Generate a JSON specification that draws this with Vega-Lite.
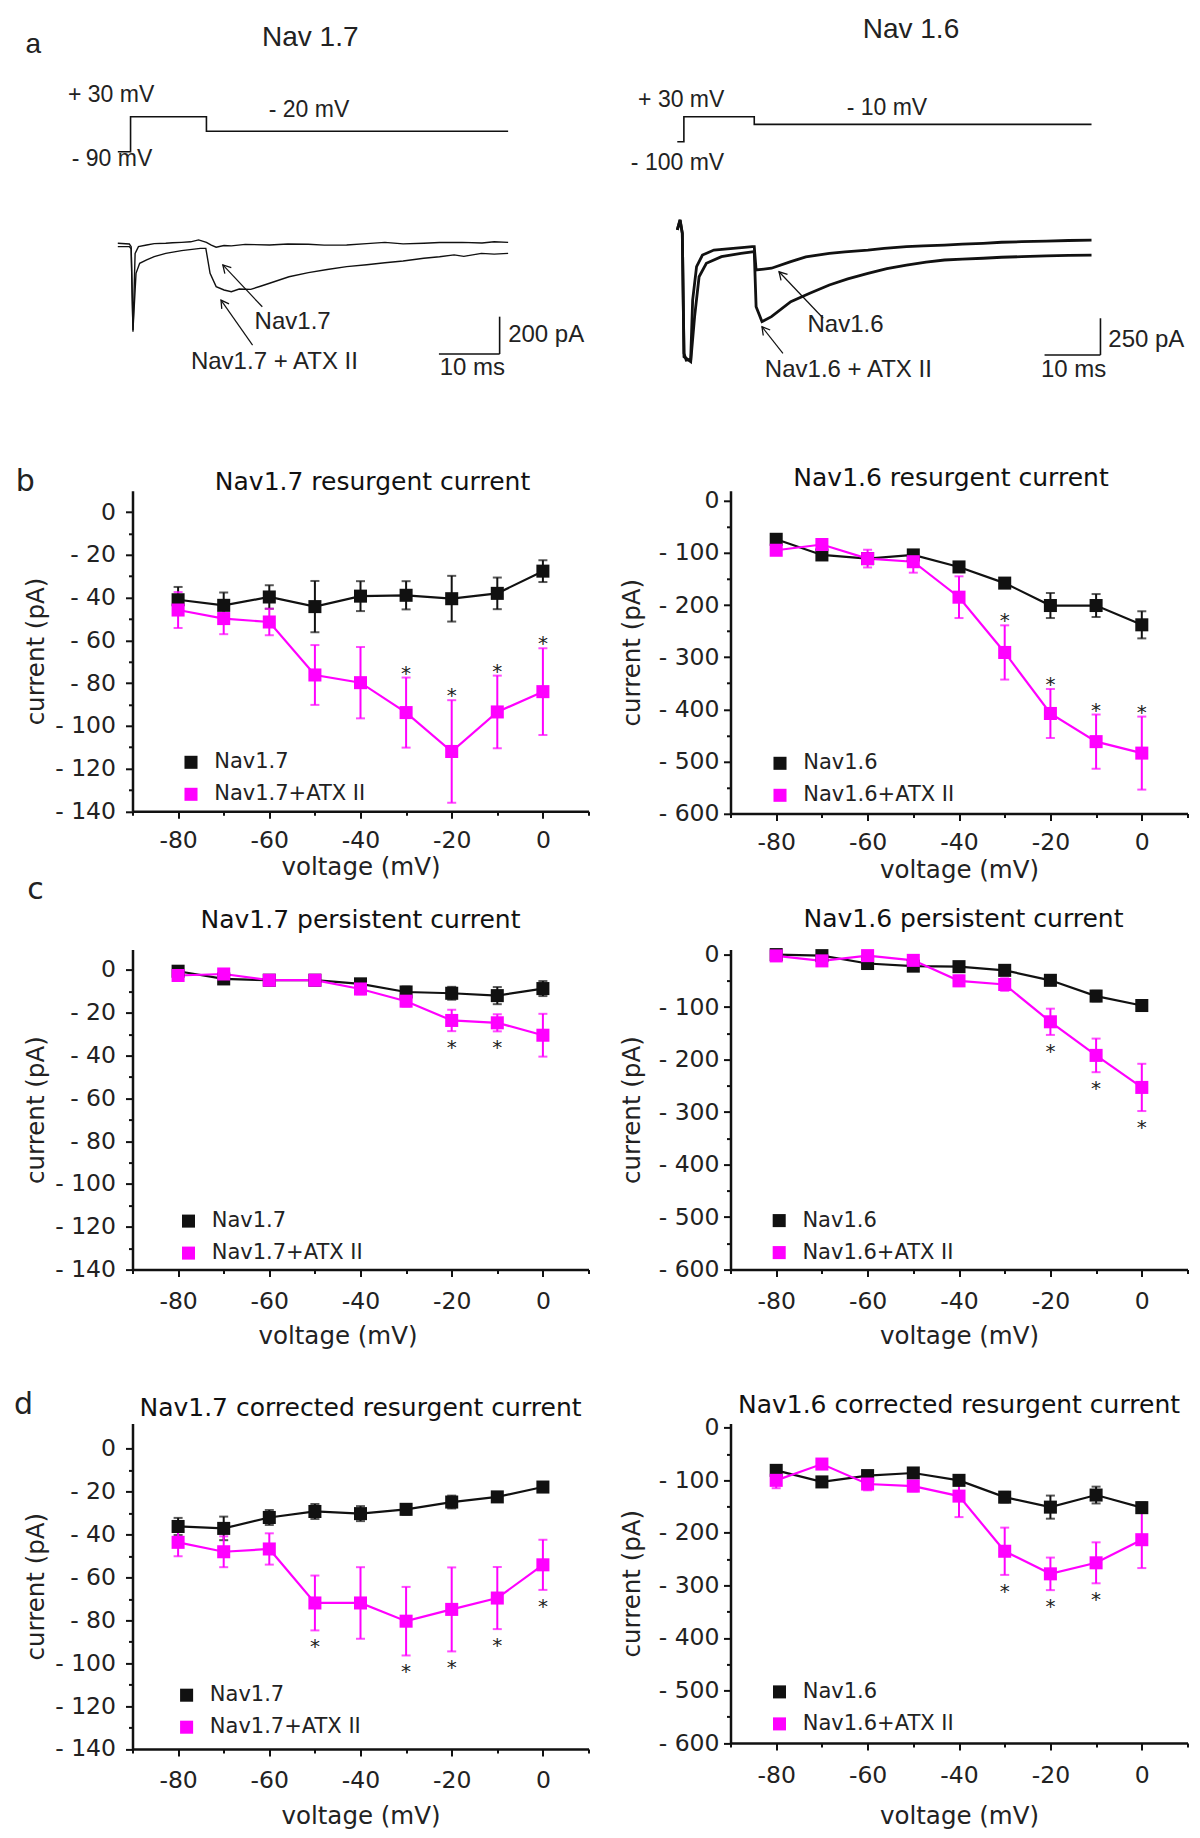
{
"$schema": "https://vega.github.io/schema/vega-lite/v6.json",
"background": "white",
"padding": {"left": 13.5, "top": 10, "right": 4, "bottom": 4},
"config": {
 "font": "DejaVu Sans",
 "view": {"stroke": null},
 "axis": {"domainColor": "#111", "domainWidth": 2.5, "tickColor": "#111", "tickWidth": 2, "labelColor": "#222", "titleColor": "#222", "labelFont": "DejaVu Sans", "titleFont": "DejaVu Sans", "labelFontSize": 23.5, "titleFontSize": 24.5, "titleFontWeight": "normal", "grid": false, "labelFlush": false, "labelOverlap": false, "labelBound": false},
 "axisX": {"titleBaseline": "alphabetic"},
 "title": {"font": "DejaVu Sans", "fontSize": 25, "fontWeight": "normal", "color": "#111", "baseline": "alphabetic", "anchor": "middle", "frame": "group"},
 "legend": {"orient": "none", "padding": 0, "symbolType": "square", "symbolSize": 170, "symbolStrokeWidth": 0, "symbolOpacity": 1, "labelFont": "DejaVu Sans", "labelFontSize": 21, "labelColor": "#222", "rowPadding": 10, "labelOffset": 12.7}
},
"datasets": {
 "aL_prot": [{"i":0,"t":0,"mV":-90},{"i":1,"t":2.1,"mV":-90},{"i":2,"t":2.1,"mV":30},{"i":3,"t":14.6,"mV":30},{"i":4,"t":14.6,"mV":-20},{"i":5,"t":64.3,"mV":-20}],
 "aL_tr": [
  {"tr":"ctrl","t":0,"pA":0},{"tr":"ctrl","t":1.9,"pA":-4},{"tr":"ctrl","t":2.2,"pA":-18},{"tr":"ctrl","t":2.5,"pA":-473},{"tr":"ctrl","t":2.85,"pA":-54},{"tr":"ctrl","t":3.4,"pA":-18},{"tr":"ctrl","t":4.75,"pA":-9},{"tr":"ctrl","t":6,"pA":-2},{"tr":"ctrl","t":7.9,"pA":0},{"tr":"ctrl","t":9,"pA":3},{"tr":"ctrl","t":10.5,"pA":5},{"tr":"ctrl","t":12,"pA":8},{"tr":"ctrl","t":13.3,"pA":18},{"tr":"ctrl","t":14.6,"pA":5},{"tr":"ctrl","t":15.4,"pA":-10},{"tr":"ctrl","t":16.2,"pA":-21},{"tr":"ctrl","t":17.5,"pA":-12},{"tr":"ctrl","t":18.7,"pA":-14},{"tr":"ctrl","t":21,"pA":-6},{"tr":"ctrl","t":25,"pA":-9},{"tr":"ctrl","t":28,"pA":-4},{"tr":"ctrl","t":31.4,"pA":-5},{"tr":"ctrl","t":34,"pA":-10},{"tr":"ctrl","t":37.7,"pA":-9},{"tr":"ctrl","t":41,"pA":-2},{"tr":"ctrl","t":44,"pA":5},{"tr":"ctrl","t":47,"pA":-3},{"tr":"ctrl","t":50.4,"pA":0},{"tr":"ctrl","t":53,"pA":4},{"tr":"ctrl","t":56.7,"pA":5},{"tr":"ctrl","t":60,"pA":2},{"tr":"ctrl","t":62,"pA":8},{"tr":"ctrl","t":64.3,"pA":5},
  {"tr":"atx","t":0,"pA":-18},{"tr":"atx","t":1.9,"pA":-18},{"tr":"atx","t":2.2,"pA":-30},{"tr":"atx","t":2.5,"pA":-464},{"tr":"atx","t":3,"pA":-161},{"tr":"atx","t":3.6,"pA":-107},{"tr":"atx","t":4.75,"pA":-89},{"tr":"atx","t":6,"pA":-71},{"tr":"atx","t":7.9,"pA":-54},{"tr":"atx","t":10.5,"pA":-39},{"tr":"atx","t":13.6,"pA":-27},{"tr":"atx","t":14.5,"pA":-27},{"tr":"atx","t":15.2,"pA":-161},{"tr":"atx","t":16.2,"pA":-232},{"tr":"atx","t":17.5,"pA":-250},{"tr":"atx","t":18.7,"pA":-259},{"tr":"atx","t":20,"pA":-245},{"tr":"atx","t":21.9,"pA":-247},{"tr":"atx","t":23.5,"pA":-230},{"tr":"atx","t":25,"pA":-214},{"tr":"atx","t":28.2,"pA":-179},{"tr":"atx","t":31.4,"pA":-157},{"tr":"atx","t":34.5,"pA":-140},{"tr":"atx","t":37.7,"pA":-125},{"tr":"atx","t":41,"pA":-115},{"tr":"atx","t":44,"pA":-104},{"tr":"atx","t":47,"pA":-95},{"tr":"atx","t":50.4,"pA":-80},{"tr":"atx","t":53,"pA":-72},{"tr":"atx","t":55.4,"pA":-62},{"tr":"atx","t":57,"pA":-70},{"tr":"atx","t":59.9,"pA":-54},{"tr":"atx","t":62,"pA":-58},{"tr":"atx","t":64.3,"pA":-54}],
 "aL_bar": [{"t":62.9,"t2":62.9,"pA":-393,"pA2":-593},{"t":52.9,"t2":62.9,"pA":-593,"pA2":-593}],
 "aL_arr": [{"tr":"ctrl","t":23.8,"pA":-340,"t2":17.3,"pA2":-116},{"tr":"atx","t":22.2,"pA":-545,"t2":17.0,"pA2":-304}],
 "aL_txt": [{"kind":"title","txt":"Nav 1.7","t":31.7,"pA":1098},{"kind":"letter","txt":"a","t":-15.2,"pA":1017.7},{"kind":"label","txt":"Nav1.7","t":28.8,"pA":-420},{"kind":"label","txt":"Nav1.7 + ATX II","t":25.8,"pA":-634},{"kind":"label","txt":"10 ms","t":58.4,"pA":-670},{"kind":"left","txt":"200 pA","t":64.3,"pA":-491}],
 "aL_mv": [{"txt":"+ 30 mV","t":-1.1,"mV":104.4},{"txt":"- 20 mV","t":31.5,"mV":53},{"txt":"- 90 mV","t":-0.96,"mV":-116}],
 "aR_prot": [{"i":0,"t":0,"mV":-100},{"i":1,"t":1.18,"mV":-100},{"i":2,"t":1.18,"mV":30},{"i":3,"t":13.77,"mV":30},{"i":4,"t":13.77,"mV":-10},{"i":5,"t":74.1,"mV":-10}],
 "aR_tr": [
  {"tr":"ctrl","t":0,"pA":14},{"tr":"ctrl","t":0.5,"pA":82},{"tr":"ctrl","t":0.9,"pA":-9},{"tr":"ctrl","t":1.2,"pA":-827},{"tr":"ctrl","t":1.6,"pA":-873},{"tr":"ctrl","t":2.4,"pA":-868},{"tr":"ctrl","t":2.75,"pA":-464},{"tr":"ctrl","t":3.45,"pA":-236},{"tr":"ctrl","t":4.5,"pA":-157},{"tr":"ctrl","t":6.55,"pA":-123},{"tr":"ctrl","t":8,"pA":-118},{"tr":"ctrl","t":10,"pA":-111},{"tr":"ctrl","t":12,"pA":-105},{"tr":"ctrl","t":13.4,"pA":-100},{"tr":"ctrl","t":13.77,"pA":-100},{"tr":"ctrl","t":14.1,"pA":-259},{"tr":"ctrl","t":16.85,"pA":-247},{"tr":"ctrl","t":20.3,"pA":-202},{"tr":"ctrl","t":23,"pA":-170},{"tr":"ctrl","t":27.2,"pA":-145},{"tr":"ctrl","t":30,"pA":-135},{"tr":"ctrl","t":34.1,"pA":-123},{"tr":"ctrl","t":37,"pA":-112},{"tr":"ctrl","t":41,"pA":-100},{"tr":"ctrl","t":44,"pA":-95},{"tr":"ctrl","t":47.8,"pA":-89},{"tr":"ctrl","t":51,"pA":-82},{"tr":"ctrl","t":54.7,"pA":-77},{"tr":"ctrl","t":58,"pA":-70},{"tr":"ctrl","t":61.6,"pA":-66},{"tr":"ctrl","t":66,"pA":-62},{"tr":"ctrl","t":70,"pA":-58},{"tr":"ctrl","t":74.1,"pA":-55},
  {"tr":"atx","t":0,"pA":14},{"tr":"atx","t":0.5,"pA":82},{"tr":"atx","t":0.9,"pA":-9},{"tr":"atx","t":1.2,"pA":-850},{"tr":"atx","t":2.4,"pA":-884},{"tr":"atx","t":3.1,"pA":-577},{"tr":"atx","t":3.9,"pA":-305},{"tr":"atx","t":5.2,"pA":-213},{"tr":"atx","t":7.9,"pA":-168},{"tr":"atx","t":11.4,"pA":-145},{"tr":"atx","t":13.77,"pA":-134},{"tr":"atx","t":14.1,"pA":-509},{"tr":"atx","t":15.15,"pA":-611},{"tr":"atx","t":16.85,"pA":-577},{"tr":"atx","t":20.3,"pA":-475},{"tr":"atx","t":23.7,"pA":-418},{"tr":"atx","t":27.2,"pA":-361},{"tr":"atx","t":30.5,"pA":-320},{"tr":"atx","t":34.1,"pA":-282},{"tr":"atx","t":37.5,"pA":-250},{"tr":"atx","t":41,"pA":-225},{"tr":"atx","t":44.5,"pA":-205},{"tr":"atx","t":47.8,"pA":-191},{"tr":"atx","t":51,"pA":-185},{"tr":"atx","t":54.7,"pA":-179},{"tr":"atx","t":58,"pA":-172},{"tr":"atx","t":61.6,"pA":-168},{"tr":"atx","t":66,"pA":-163},{"tr":"atx","t":70,"pA":-160},{"tr":"atx","t":74.1,"pA":-157}],
 "aR_bar": [{"t":75.7,"t2":75.7,"pA":-588,"pA2":-838},{"t":65.7,"t2":75.7,"pA":-838,"pA2":-838}],
 "aR_arr": [{"tr":"ctrl","t":26.1,"pA":-588,"t2":18.2,"pA2":-271},{"tr":"atx","t":18.9,"pA":-827,"t2":15.15,"pA2":-646}],
 "aR_txt": [{"kind":"title","txt":"Nav 1.6","t":41.8,"pA":1377.6},{"kind":"label","txt":"Nav1.6","t":30.1,"pA":-634},{"kind":"label","txt":"Nav1.6 + ATX II","t":30.6,"pA":-941},{"kind":"label","txt":"10 ms","t":70.9,"pA":-941},{"kind":"left","txt":"250 pA","t":77.1,"pA":-736}],
 "aR_mv": [{"txt":"+ 30 mV","t":0.7,"mV":116.8},{"txt":"- 10 mV","t":37.5,"mV":73.7},{"txt":"- 100 mV","t":0.04,"mV":-212.3}],
 "b17": [
  {"v":-80,"cur":-41,"sem":6,"grp":"Nav1.7","sig":0},{"v":-70,"cur":-43.6,"sem":6,"grp":"Nav1.7","sig":0},{"v":-60,"cur":-39.7,"sem":5.5,"grp":"Nav1.7","sig":0},{"v":-50,"cur":-44.2,"sem":12,"grp":"Nav1.7","sig":0},{"v":-40,"cur":-39.3,"sem":7,"grp":"Nav1.7","sig":0},{"v":-30,"cur":-38.9,"sem":6.6,"grp":"Nav1.7","sig":0},{"v":-20,"cur":-40.5,"sem":10.7,"grp":"Nav1.7","sig":0},{"v":-10,"cur":-38,"sem":7.4,"grp":"Nav1.7","sig":0},{"v":0,"cur":-27.6,"sem":5.1,"grp":"Nav1.7","sig":0},
  {"v":-80,"cur":-45.8,"sem":8.4,"grp":"Nav1.7+ATX II","sig":0},{"v":-70,"cur":-49.8,"sem":7.3,"grp":"Nav1.7+ATX II","sig":0},{"v":-60,"cur":-51.4,"sem":6.2,"grp":"Nav1.7+ATX II","sig":0},{"v":-50,"cur":-76.2,"sem":14,"grp":"Nav1.7+ATX II","sig":0},{"v":-40,"cur":-79.8,"sem":16.7,"grp":"Nav1.7+ATX II","sig":0},{"v":-30,"cur":-93.8,"sem":16.4,"grp":"Nav1.7+ATX II","sig":1},{"v":-20,"cur":-112,"sem":24,"grp":"Nav1.7+ATX II","sig":1},{"v":-10,"cur":-93.5,"sem":17,"grp":"Nav1.7+ATX II","sig":1},{"v":0,"cur":-84,"sem":20.3,"grp":"Nav1.7+ATX II","sig":1}],
 "b16": [
  {"v":-80,"cur":-74,"sem":8,"grp":"Nav1.6","sig":0},{"v":-70,"cur":-104,"sem":7,"grp":"Nav1.6","sig":0},{"v":-60,"cur":-111,"sem":6,"grp":"Nav1.6","sig":0},{"v":-50,"cur":-104,"sem":6,"grp":"Nav1.6","sig":0},{"v":-40,"cur":-127,"sem":6,"grp":"Nav1.6","sig":0},{"v":-30,"cur":-158,"sem":8,"grp":"Nav1.6","sig":0},{"v":-20,"cur":-201,"sem":24,"grp":"Nav1.6","sig":0},{"v":-10,"cur":-201,"sem":22,"grp":"Nav1.6","sig":0},{"v":0,"cur":-238,"sem":26,"grp":"Nav1.6","sig":0},
  {"v":-80,"cur":-95,"sem":9,"grp":"Nav1.6+ATX II","sig":0},{"v":-70,"cur":-84,"sem":9,"grp":"Nav1.6+ATX II","sig":0},{"v":-60,"cur":-111,"sem":17,"grp":"Nav1.6+ATX II","sig":0},{"v":-50,"cur":-117,"sem":21,"grp":"Nav1.6+ATX II","sig":0},{"v":-40,"cur":-185,"sem":40,"grp":"Nav1.6+ATX II","sig":0},{"v":-30,"cur":-291,"sem":52,"grp":"Nav1.6+ATX II","sig":1},{"v":-20,"cur":-408,"sem":47,"grp":"Nav1.6+ATX II","sig":1},{"v":-10,"cur":-462,"sem":52,"grp":"Nav1.6+ATX II","sig":1},{"v":0,"cur":-484,"sem":70,"grp":"Nav1.6+ATX II","sig":1}],
 "c17": [
  {"v":-80,"cur":-0.6,"sem":2,"grp":"Nav1.7","sig":0},{"v":-70,"cur":-4.2,"sem":2,"grp":"Nav1.7","sig":0},{"v":-60,"cur":-4.8,"sem":2,"grp":"Nav1.7","sig":0},{"v":-50,"cur":-4.8,"sem":2,"grp":"Nav1.7","sig":0},{"v":-40,"cur":-6.5,"sem":2,"grp":"Nav1.7","sig":0},{"v":-30,"cur":-10.3,"sem":2.5,"grp":"Nav1.7","sig":0},{"v":-20,"cur":-10.9,"sem":3,"grp":"Nav1.7","sig":0},{"v":-10,"cur":-12,"sem":4,"grp":"Nav1.7","sig":0},{"v":0,"cur":-8.7,"sem":3.5,"grp":"Nav1.7","sig":0},
  {"v":-80,"cur":-2.6,"sem":2.5,"grp":"Nav1.7+ATX II","sig":0},{"v":-70,"cur":-1.9,"sem":2,"grp":"Nav1.7+ATX II","sig":0},{"v":-60,"cur":-4.8,"sem":2,"grp":"Nav1.7+ATX II","sig":0},{"v":-50,"cur":-4.8,"sem":2,"grp":"Nav1.7+ATX II","sig":0},{"v":-40,"cur":-8.9,"sem":2.5,"grp":"Nav1.7+ATX II","sig":0},{"v":-30,"cur":-14.6,"sem":2.5,"grp":"Nav1.7+ATX II","sig":0},{"v":-20,"cur":-23.6,"sem":5,"grp":"Nav1.7+ATX II","sig":1},{"v":-10,"cur":-24.7,"sem":4,"grp":"Nav1.7+ATX II","sig":1},{"v":0,"cur":-30.5,"sem":10,"grp":"Nav1.7+ATX II","sig":0}],
 "c16": [
  {"v":-80,"cur":0,"sem":4,"grp":"Nav1.6","sig":0},{"v":-70,"cur":-2,"sem":4,"grp":"Nav1.6","sig":0},{"v":-60,"cur":-17,"sem":4,"grp":"Nav1.6","sig":0},{"v":-50,"cur":-22,"sem":6,"grp":"Nav1.6","sig":0},{"v":-40,"cur":-23,"sem":5,"grp":"Nav1.6","sig":0},{"v":-30,"cur":-30,"sem":5,"grp":"Nav1.6","sig":0},{"v":-20,"cur":-49,"sem":6,"grp":"Nav1.6","sig":0},{"v":-10,"cur":-79,"sem":10,"grp":"Nav1.6","sig":0},{"v":0,"cur":-97,"sem":10,"grp":"Nav1.6","sig":0},
  {"v":-80,"cur":-2.5,"sem":4,"grp":"Nav1.6+ATX II","sig":0},{"v":-70,"cur":-12,"sem":5,"grp":"Nav1.6+ATX II","sig":0},{"v":-60,"cur":-2,"sem":5,"grp":"Nav1.6+ATX II","sig":0},{"v":-50,"cur":-11,"sem":8,"grp":"Nav1.6+ATX II","sig":0},{"v":-40,"cur":-50,"sem":10,"grp":"Nav1.6+ATX II","sig":0},{"v":-30,"cur":-57,"sem":12,"grp":"Nav1.6+ATX II","sig":0},{"v":-20,"cur":-128,"sem":25,"grp":"Nav1.6+ATX II","sig":1},{"v":-10,"cur":-192,"sem":32,"grp":"Nav1.6+ATX II","sig":1},{"v":0,"cur":-253,"sem":45,"grp":"Nav1.6+ATX II","sig":1}],
 "d17": [
  {"v":-80,"cur":-36.2,"sem":4,"grp":"Nav1.7","sig":0},{"v":-70,"cur":-37.1,"sem":5.5,"grp":"Nav1.7","sig":0},{"v":-60,"cur":-32,"sem":3.5,"grp":"Nav1.7","sig":0},{"v":-50,"cur":-29.2,"sem":3.5,"grp":"Nav1.7","sig":0},{"v":-40,"cur":-30.2,"sem":3.5,"grp":"Nav1.7","sig":0},{"v":-30,"cur":-28.2,"sem":2.5,"grp":"Nav1.7","sig":0},{"v":-20,"cur":-24.8,"sem":3,"grp":"Nav1.7","sig":0},{"v":-10,"cur":-22.4,"sem":1.5,"grp":"Nav1.7","sig":0},{"v":0,"cur":-17.8,"sem":1.5,"grp":"Nav1.7","sig":0},
  {"v":-80,"cur":-43.6,"sem":6.5,"grp":"Nav1.7+ATX II","sig":0},{"v":-70,"cur":-48,"sem":7.2,"grp":"Nav1.7+ATX II","sig":0},{"v":-60,"cur":-46.7,"sem":7.3,"grp":"Nav1.7+ATX II","sig":0},{"v":-50,"cur":-71.9,"sem":12.8,"grp":"Nav1.7+ATX II","sig":1},{"v":-40,"cur":-71.9,"sem":16.7,"grp":"Nav1.7+ATX II","sig":0},{"v":-30,"cur":-80.4,"sem":16,"grp":"Nav1.7+ATX II","sig":1},{"v":-20,"cur":-74.9,"sem":19.6,"grp":"Nav1.7+ATX II","sig":1},{"v":-10,"cur":-69.6,"sem":14.5,"grp":"Nav1.7+ATX II","sig":1},{"v":0,"cur":-54.1,"sem":11.7,"grp":"Nav1.7+ATX II","sig":1}],
 "d16": [
  {"v":-80,"cur":-81,"sem":10,"grp":"Nav1.6","sig":0},{"v":-70,"cur":-103,"sem":5,"grp":"Nav1.6","sig":0},{"v":-60,"cur":-91,"sem":6,"grp":"Nav1.6","sig":0},{"v":-50,"cur":-86,"sem":6,"grp":"Nav1.6","sig":0},{"v":-40,"cur":-100,"sem":8,"grp":"Nav1.6","sig":0},{"v":-30,"cur":-132,"sem":10,"grp":"Nav1.6","sig":0},{"v":-20,"cur":-151,"sem":22,"grp":"Nav1.6","sig":0},{"v":-10,"cur":-128,"sem":16,"grp":"Nav1.6","sig":0},{"v":0,"cur":-152,"sem":10,"grp":"Nav1.6","sig":0},
  {"v":-80,"cur":-100,"sem":15,"grp":"Nav1.6+ATX II","sig":0},{"v":-70,"cur":-69,"sem":8,"grp":"Nav1.6+ATX II","sig":0},{"v":-60,"cur":-107,"sem":12,"grp":"Nav1.6+ATX II","sig":0},{"v":-50,"cur":-111,"sem":10,"grp":"Nav1.6+ATX II","sig":0},{"v":-40,"cur":-130,"sem":40,"grp":"Nav1.6+ATX II","sig":0},{"v":-30,"cur":-235,"sem":45,"grp":"Nav1.6+ATX II","sig":1},{"v":-20,"cur":-278,"sem":31,"grp":"Nav1.6+ATX II","sig":1},{"v":-10,"cur":-257,"sem":39,"grp":"Nav1.6+ATX II","sig":1},{"v":0,"cur":-213,"sem":54,"grp":"Nav1.6+ATX II","sig":0}]
},
"columns": 2,
"spacing": {"row": -7.2, "column": 30},
"align": "each",
"bounds": "full",
"resolve": {"scale": {"x": "independent", "y": "independent", "color": "independent"}, "legend": {"color": "independent"}, "axis": {"x": "independent", "y": "independent"}},
"concat": [
 {
  "width": 456, "height": 463,
  "resolve": {"scale": {"y": "independent"}},
  "encoding": {"x": {"field": "t", "type": "quantitative", "scale": {"domain": [2.42, 77.54], "nice": false, "zero": false}, "axis": null}},
  "layer": [
   {"data": {"name": "aL_prot"}, "mark": {"type": "line", "color": "#111", "strokeWidth": 1.6}, "encoding": {"y": {"field": "mV", "type": "quantitative", "scale": {"domain": [-1191.5, 395.8], "nice": false, "zero": false}, "axis": null}, "order": {"field": "i"}}},
   {"data": {"name": "aL_tr"}, "mark": {"type": "line", "color": "#111", "strokeWidth": 1.4}, "encoding": {"y": {"field": "pA", "type": "quantitative", "scale": {"domain": [-1230.3, 1249.6], "nice": false, "zero": false}, "axis": null}, "detail": {"field": "tr"}}},
   {"data": {"name": "aL_bar"}, "mark": {"type": "rule", "color": "#111", "strokeWidth": 1.6}, "encoding": {"x2": {"field": "t2"}, "y": {"field": "pA", "type": "quantitative", "scale": {"domain": [-1230.3, 1249.6], "nice": false, "zero": false}, "axis": null}, "y2": {"field": "pA2"}}},
   {"data": {"name": "aL_arr"}, "mark": {"type": "rule", "color": "#111", "strokeWidth": 1.2}, "encoding": {"x2": {"field": "t2"}, "y": {"field": "pA", "type": "quantitative", "scale": {"domain": [-1230.3, 1249.6], "nice": false, "zero": false}, "axis": null}, "y2": {"field": "pA2"}}},
   {"data": {"name": "aL_arr"}, "mark": {"type": "point", "shape": "M -0.55 0.95 L 0 0 L 0.55 0.95", "filled": false, "color": "#111", "strokeWidth": 1.3, "size": 260, "opacity": 1}, "encoding": {"x": {"field": "t2", "type": "quantitative", "scale": {"domain": [2.42, 77.54], "nice": false, "zero": false}, "axis": null}, "y": {"field": "pA2", "type": "quantitative", "scale": {"domain": [-1230.3, 1249.6], "nice": false, "zero": false}, "axis": null}, "angle": {"condition": {"test": "datum.tr == 'ctrl'", "value": 316.8}, "value": 325}}},
   {"data": {"name": "aL_txt"}, "transform": [{"filter": "datum.kind == 'title'"}], "mark": {"type": "text", "font": "Liberation Sans", "fontSize": 28, "align": "center", "baseline": "middle", "color": "#222"}, "encoding": {"y": {"field": "pA", "type": "quantitative", "scale": {"domain": [-1230.3, 1249.6], "nice": false, "zero": false}, "axis": null}, "text": {"field": "txt"}}},
   {"data": {"name": "aL_txt"}, "transform": [{"filter": "datum.kind == 'letter'"}], "mark": {"type": "text", "font": "Liberation Sans", "fontSize": 28, "align": "left", "baseline": "alphabetic", "color": "#222"}, "encoding": {"y": {"field": "pA", "type": "quantitative", "scale": {"domain": [-1230.3, 1249.6], "nice": false, "zero": false}, "axis": null}, "text": {"field": "txt"}}},
   {"data": {"name": "aL_txt"}, "transform": [{"filter": "datum.kind == 'label'"}], "mark": {"type": "text", "font": "Liberation Sans", "fontSize": 24, "align": "center", "baseline": "middle", "color": "#222"}, "encoding": {"y": {"field": "pA", "type": "quantitative", "scale": {"domain": [-1230.3, 1249.6], "nice": false, "zero": false}, "axis": null}, "text": {"field": "txt"}}},
   {"data": {"name": "aL_txt"}, "transform": [{"filter": "datum.kind == 'left'"}], "mark": {"type": "text", "font": "Liberation Sans", "fontSize": 24, "align": "left", "baseline": "middle", "color": "#222"}, "encoding": {"y": {"field": "pA", "type": "quantitative", "scale": {"domain": [-1230.3, 1249.6], "nice": false, "zero": false}, "axis": null}, "text": {"field": "txt"}}},
   {"data": {"name": "aL_mv"}, "mark": {"type": "text", "font": "Liberation Sans", "fontSize": 23, "align": "center", "baseline": "middle", "color": "#222"}, "encoding": {"y": {"field": "mV", "type": "quantitative", "scale": {"domain": [-1191.5, 395.8], "nice": false, "zero": false}, "axis": null}, "text": {"field": "txt"}}}
  ]
 },
 {
  "width": 457, "height": 463,
  "resolve": {"scale": {"y": "independent"}},
  "encoding": {"x": {"field": "t", "type": "quantitative", "scale": {"domain": [9.52, 91.27], "nice": false, "zero": false}, "axis": null}},
  "layer": [
   {"data": {"name": "aR_prot"}, "mark": {"type": "line", "color": "#111", "strokeWidth": 1.6}, "encoding": {"y": {"field": "mV", "type": "quantitative", "scale": {"domain": [-1822.8, 584.9], "nice": false, "zero": false}, "axis": null}, "order": {"field": "i"}}},
   {"data": {"name": "aR_tr"}, "mark": {"type": "line", "color": "#111", "strokeWidth": 2.8}, "encoding": {"y": {"field": "pA", "type": "quantitative", "scale": {"domain": [-1642.8, 1513.3], "nice": false, "zero": false}, "axis": null}, "detail": {"field": "tr"}}},
   {"data": {"name": "aR_bar"}, "mark": {"type": "rule", "color": "#111", "strokeWidth": 1.6}, "encoding": {"x2": {"field": "t2"}, "y": {"field": "pA", "type": "quantitative", "scale": {"domain": [-1642.8, 1513.3], "nice": false, "zero": false}, "axis": null}, "y2": {"field": "pA2"}}},
   {"data": {"name": "aR_arr"}, "mark": {"type": "rule", "color": "#111", "strokeWidth": 1.2}, "encoding": {"x2": {"field": "t2"}, "y": {"field": "pA", "type": "quantitative", "scale": {"domain": [-1642.8, 1513.3], "nice": false, "zero": false}, "axis": null}, "y2": {"field": "pA2"}}},
   {"data": {"name": "aR_arr"}, "mark": {"type": "point", "shape": "M -0.55 0.95 L 0 0 L 0.55 0.95", "filled": false, "color": "#111", "strokeWidth": 1.3, "size": 260, "opacity": 1}, "encoding": {"x": {"field": "t2", "type": "quantitative", "scale": {"domain": [9.52, 91.27], "nice": false, "zero": false}, "axis": null}, "y": {"field": "pA2", "type": "quantitative", "scale": {"domain": [-1642.8, 1513.3], "nice": false, "zero": false}, "axis": null}, "angle": {"condition": {"test": "datum.tr == 'ctrl'", "value": 316.8}, "value": 321.6}}},
   {"data": {"name": "aR_txt"}, "transform": [{"filter": "datum.kind == 'title'"}], "mark": {"type": "text", "font": "Liberation Sans", "fontSize": 28, "align": "center", "baseline": "middle", "color": "#222"}, "encoding": {"y": {"field": "pA", "type": "quantitative", "scale": {"domain": [-1642.8, 1513.3], "nice": false, "zero": false}, "axis": null}, "text": {"field": "txt"}}},
   {"data": {"name": "aR_txt"}, "transform": [{"filter": "datum.kind == 'label'"}], "mark": {"type": "text", "font": "Liberation Sans", "fontSize": 24, "align": "center", "baseline": "middle", "color": "#222"}, "encoding": {"y": {"field": "pA", "type": "quantitative", "scale": {"domain": [-1642.8, 1513.3], "nice": false, "zero": false}, "axis": null}, "text": {"field": "txt"}}},
   {"data": {"name": "aR_txt"}, "transform": [{"filter": "datum.kind == 'left'"}], "mark": {"type": "text", "font": "Liberation Sans", "fontSize": 24, "align": "left", "baseline": "middle", "color": "#222"}, "encoding": {"y": {"field": "pA", "type": "quantitative", "scale": {"domain": [-1642.8, 1513.3], "nice": false, "zero": false}, "axis": null}, "text": {"field": "txt"}}},
   {"data": {"name": "aR_mv"}, "mark": {"type": "text", "font": "Liberation Sans", "fontSize": 23, "align": "center", "baseline": "middle", "color": "#222"}, "encoding": {"y": {"field": "mV", "type": "quantitative", "scale": {"domain": [-1822.8, 584.9], "nice": false, "zero": false}, "axis": null}, "text": {"field": "txt"}}}
  ]
 },
 {
  "width": 456, "height": 320.5,
  "title": {"text": "Nav1.7 resurgent current", "offset": -27.5, "dx": 12},
  "data": {"name": "b17"},
  "encoding": {
   "x": {"field": "v", "type": "quantitative", "scale": {"domain": [-90, 10], "nice": false, "zero": false}, "axis": {"values": [-90,-80,-70,-60,-50,-40,-30,-20,-10,0,10], "labelExpr": "datum.value % 20 != 0 || datum.value > 0 ? '' : (datum.value == 0 ? '0' : '-' + abs(datum.value))", "tickSize": {"condition": {"test": "datum.value % 20 == 0", "value": 7}, "value": 4}, "labelPadding": 10, "title": "voltage (mV)", "titlePadding": 22.7}},
   "y": {"field": "cur", "type": "quantitative", "scale": {"domain": [-140, 10], "nice": false, "zero": false}, "axis": {"values": [-140,-130,-120,-110,-100,-90,-80,-70,-60,-50,-40,-30,-20,-10,0], "labelExpr": "datum.value % 20 != 0 ? '' : (datum.value == 0 ? '0' : '- ' + abs(datum.value))", "tickSize": {"condition": {"test": "datum.value % 20 == 0", "value": 7}, "value": 4}, "labelPadding": 10, "title": "current (pA)", "titlePadding": 6}}
  },
  "layer": [
   {"transform": [{"filter": "datum.grp == 'Nav1.7'"}], "mark": {"type": "errorbar", "ticks": true, "size": 9, "thickness": 2, "color": "#111111"}, "encoding": {"yError": {"field": "sem"}}},
   {"transform": [{"filter": "datum.grp == 'Nav1.7'"}], "mark": {"type": "line", "strokeWidth": 2.2, "color": "#111111"}},
   {"transform": [{"filter": "datum.grp != 'Nav1.7'"}], "mark": {"type": "errorbar", "ticks": true, "size": 9, "thickness": 2, "color": "#ff00ff"}, "encoding": {"yError": {"field": "sem"}}},
   {"transform": [{"filter": "datum.grp != 'Nav1.7'"}], "mark": {"type": "line", "strokeWidth": 2.2, "color": "#ff00ff"}},
   {"mark": {"type": "point", "shape": "square", "filled": true, "size": 170, "opacity": 1}, "encoding": {"color": {"field": "grp", "type": "nominal", "scale": {"domain": ["Nav1.7", "Nav1.7+ATX II"], "range": ["#111111", "#ff00ff"]}, "legend": {"title": null, "orient": "none", "legendX": 48, "legendY": 261}}}},
   {"transform": [{"filter": "datum.sig == 1"}, {"calculate": "datum.cur + datum.sem", "as": "ys"}], "mark": {"type": "text", "text": "*", "fontSize": 20, "baseline": "alphabetic", "dy": 2, "color": "#222"}, "encoding": {"y": {"field": "ys", "type": "quantitative", "scale": {"domain": [-140, 10], "nice": false, "zero": false}, "axis": {"values": [-140,-130,-120,-110,-100,-90,-80,-70,-60,-50,-40,-30,-20,-10,0], "labelExpr": "datum.value % 20 != 0 ? '' : (datum.value == 0 ? '0' : '- ' + abs(datum.value))", "tickSize": {"condition": {"test": "datum.value % 20 == 0", "value": 7}, "value": 4}, "labelPadding": 10, "title": "current (pA)", "titlePadding": 6}}}},
   {"transform": [{"filter": "datum.v == -80 && datum.grp == 'Nav1.7'"}], "mark": {"type": "text", "text": "b", "fontSize": 30, "align": "left", "baseline": "alphabetic", "color": "#222"}, "encoding": {"x": {"datum": -115.6, "type": "quantitative"}, "y": {"datum": 9.78, "type": "quantitative"}}}
  ]
 },
 {
  "width": 457, "height": 322.8,
  "title": {"text": "Nav1.6 resurgent current", "offset": -2.65, "dx": -8},
  "data": {"name": "b16"},
  "encoding": {
   "x": {"field": "v", "type": "quantitative", "scale": {"domain": [-90, 10], "nice": false, "zero": false}, "axis": {"values": [-90,-80,-70,-60,-50,-40,-30,-20,-10,0,10], "labelExpr": "datum.value % 20 != 0 || datum.value > 0 ? '' : (datum.value == 0 ? '0' : '-' + abs(datum.value))", "tickSize": {"condition": {"test": "datum.value % 20 == 0", "value": 7}, "value": 4}, "labelPadding": 10, "title": "voltage (mV)", "titlePadding": 22.9}},
   "y": {"field": "cur", "type": "quantitative", "scale": {"domain": [-600, 19], "nice": false, "zero": false}, "axis": {"values": [-600,-550,-500,-450,-400,-350,-300,-250,-200,-150,-100,-50,0], "labelExpr": "datum.value % 100 != 0 ? '' : (datum.value == 0 ? '0' : '- ' + abs(datum.value))", "tickSize": {"condition": {"test": "datum.value % 100 == 0", "value": 7}, "value": 4}, "labelPadding": 4.5, "title": "current (pA)", "titlePadding": 13.5}}
  },
  "layer": [
   {"transform": [{"filter": "datum.grp == 'Nav1.6'"}], "mark": {"type": "errorbar", "ticks": true, "size": 9, "thickness": 2, "color": "#111111"}, "encoding": {"yError": {"field": "sem"}}},
   {"transform": [{"filter": "datum.grp == 'Nav1.6'"}], "mark": {"type": "line", "strokeWidth": 2.2, "color": "#111111"}},
   {"transform": [{"filter": "datum.grp != 'Nav1.6'"}], "mark": {"type": "errorbar", "ticks": true, "size": 9, "thickness": 2, "color": "#ff00ff"}, "encoding": {"yError": {"field": "sem"}}},
   {"transform": [{"filter": "datum.grp != 'Nav1.6'"}], "mark": {"type": "line", "strokeWidth": 2.2, "color": "#ff00ff"}},
   {"mark": {"type": "point", "shape": "square", "filled": true, "size": 170, "opacity": 1}, "encoding": {"color": {"field": "grp", "type": "nominal", "scale": {"domain": ["Nav1.6", "Nav1.6+ATX II"], "range": ["#111111", "#ff00ff"]}, "legend": {"title": null, "orient": "none", "legendX": 39, "legendY": 262}}}},
   {"transform": [{"filter": "datum.sig == 1"}, {"calculate": "datum.cur + datum.sem", "as": "ys"}], "mark": {"type": "text", "text": "*", "fontSize": 20, "baseline": "alphabetic", "dy": 2, "color": "#222"}, "encoding": {"y": {"field": "ys", "type": "quantitative", "scale": {"domain": [-600, 19], "nice": false, "zero": false}, "axis": {"values": [-600,-550,-500,-450,-400,-350,-300,-250,-200,-150,-100,-50,0], "labelExpr": "datum.value % 100 != 0 ? '' : (datum.value == 0 ? '0' : '- ' + abs(datum.value))", "tickSize": {"condition": {"test": "datum.value % 100 == 0", "value": 7}, "value": 4}, "labelPadding": 4.5, "title": "current (pA)", "titlePadding": 13.5}}}}
  ]
 },
 {
  "width": 456, "height": 320,
  "title": {"text": "Nav1.7 persistent current", "offset": -58.2, "dx": 0},
  "data": {"name": "c17"},
  "encoding": {
   "x": {"field": "v", "type": "quantitative", "scale": {"domain": [-90, 10], "nice": false, "zero": false}, "axis": {"values": [-90,-80,-70,-60,-50,-40,-30,-20,-10,0,10], "labelExpr": "datum.value % 20 != 0 || datum.value > 0 ? '' : (datum.value == 0 ? '0' : '-' + abs(datum.value))", "tickSize": {"condition": {"test": "datum.value % 20 == 0", "value": 7}, "value": 4}, "labelPadding": 13, "title": ["voltage (mV)", ""], "titleLineHeight": 48.5, "titlePadding": 30, "titleX": 205}},
   "y": {"field": "cur", "type": "quantitative", "scale": {"domain": [-140, 9.5], "nice": false, "zero": false}, "axis": {"values": [-140,-130,-120,-110,-100,-90,-80,-70,-60,-50,-40,-30,-20,-10,0], "labelExpr": "datum.value % 20 != 0 ? '' : (datum.value == 0 ? '0' : '- ' + abs(datum.value))", "tickSize": {"condition": {"test": "datum.value % 20 == 0", "value": 7}, "value": 4}, "labelPadding": 10, "title": "current (pA)", "titlePadding": 6}}
  },
  "layer": [
   {"transform": [{"filter": "datum.grp == 'Nav1.7'"}], "mark": {"type": "errorbar", "ticks": true, "size": 9, "thickness": 2, "color": "#111111"}, "encoding": {"yError": {"field": "sem"}}},
   {"transform": [{"filter": "datum.grp == 'Nav1.7'"}], "mark": {"type": "line", "strokeWidth": 2.2, "color": "#111111"}},
   {"transform": [{"filter": "datum.grp != 'Nav1.7'"}], "mark": {"type": "errorbar", "ticks": true, "size": 9, "thickness": 2, "color": "#ff00ff"}, "encoding": {"yError": {"field": "sem"}}},
   {"transform": [{"filter": "datum.grp != 'Nav1.7'"}], "mark": {"type": "line", "strokeWidth": 2.2, "color": "#ff00ff"}},
   {"mark": {"type": "point", "shape": "square", "filled": true, "size": 170, "opacity": 1}, "encoding": {"color": {"field": "grp", "type": "nominal", "scale": {"domain": ["Nav1.7", "Nav1.7+ATX II"], "range": ["#111111", "#ff00ff"]}, "legend": {"title": null, "orient": "none", "legendX": 45.5, "legendY": 261}}}},
   {"transform": [{"filter": "datum.sig == 1"}, {"calculate": "datum.cur - datum.sem", "as": "ys"}], "mark": {"type": "text", "text": "*", "fontSize": 20, "baseline": "alphabetic", "dy": 22.8, "color": "#222"}, "encoding": {"y": {"field": "ys", "type": "quantitative", "scale": {"domain": [-140, 9.5], "nice": false, "zero": false}, "axis": {"values": [-140,-130,-120,-110,-100,-90,-80,-70,-60,-50,-40,-30,-20,-10,0], "labelExpr": "datum.value % 20 != 0 ? '' : (datum.value == 0 ? '0' : '- ' + abs(datum.value))", "tickSize": {"condition": {"test": "datum.value % 20 == 0", "value": 7}, "value": 4}, "labelPadding": 10, "title": "current (pA)", "titlePadding": 6}}}},
   {"transform": [{"filter": "datum.v == -80 && datum.grp == 'Nav1.7'"}], "mark": {"type": "text", "text": "c", "fontSize": 30, "align": "left", "baseline": "alphabetic", "color": "#222"}, "encoding": {"x": {"datum": -113.1, "type": "quantitative"}, "y": {"datum": 33.0, "type": "quantitative"}}}
  ]
 },
 {
  "width": 457, "height": 320,
  "title": {"text": "Nav1.6 persistent current", "offset": 10.35, "dx": 4.5},
  "data": {"name": "c16"},
  "encoding": {
   "x": {"field": "v", "type": "quantitative", "scale": {"domain": [-90, 10], "nice": false, "zero": false}, "axis": {"values": [-90,-80,-70,-60,-50,-40,-30,-20,-10,0,10], "labelExpr": "datum.value % 20 != 0 || datum.value > 0 ? '' : (datum.value == 0 ? '0' : '-' + abs(datum.value))", "tickSize": {"condition": {"test": "datum.value % 20 == 0", "value": 7}, "value": 4}, "labelPadding": 13, "title": ["voltage (mV)", ""], "titleLineHeight": 48.5, "titlePadding": 30}},
   "y": {"field": "cur", "type": "quantitative", "scale": {"domain": [-600, 9.5], "nice": false, "zero": false}, "axis": {"values": [-600,-550,-500,-450,-400,-350,-300,-250,-200,-150,-100,-50,0], "labelExpr": "datum.value % 100 != 0 ? '' : (datum.value == 0 ? '0' : '- ' + abs(datum.value))", "tickSize": {"condition": {"test": "datum.value % 100 == 0", "value": 7}, "value": 4}, "labelPadding": 4.5, "title": "current (pA)", "titlePadding": 13.5}}
  },
  "layer": [
   {"transform": [{"filter": "datum.grp == 'Nav1.6'"}], "mark": {"type": "errorbar", "ticks": true, "size": 9, "thickness": 2, "color": "#111111"}, "encoding": {"yError": {"field": "sem"}}},
   {"transform": [{"filter": "datum.grp == 'Nav1.6'"}], "mark": {"type": "line", "strokeWidth": 2.2, "color": "#111111"}},
   {"transform": [{"filter": "datum.grp != 'Nav1.6'"}], "mark": {"type": "errorbar", "ticks": true, "size": 9, "thickness": 2, "color": "#ff00ff"}, "encoding": {"yError": {"field": "sem"}}},
   {"transform": [{"filter": "datum.grp != 'Nav1.6'"}], "mark": {"type": "line", "strokeWidth": 2.2, "color": "#ff00ff"}},
   {"mark": {"type": "point", "shape": "square", "filled": true, "size": 170, "opacity": 1}, "encoding": {"color": {"field": "grp", "type": "nominal", "scale": {"domain": ["Nav1.6", "Nav1.6+ATX II"], "range": ["#111111", "#ff00ff"]}, "legend": {"title": null, "orient": "none", "legendX": 38.2, "legendY": 260.5}}}},
   {"transform": [{"filter": "datum.sig == 1"}, {"calculate": "datum.cur - datum.sem", "as": "ys"}], "mark": {"type": "text", "text": "*", "fontSize": 20, "baseline": "alphabetic", "dy": 22.8, "color": "#222"}, "encoding": {"y": {"field": "ys", "type": "quantitative", "scale": {"domain": [-600, 9.5], "nice": false, "zero": false}, "axis": {"values": [-600,-550,-500,-450,-400,-350,-300,-250,-200,-150,-100,-50,0], "labelExpr": "datum.value % 100 != 0 ? '' : (datum.value == 0 ? '0' : '- ' + abs(datum.value))", "tickSize": {"condition": {"test": "datum.value % 100 == 0", "value": 7}, "value": 4}, "labelPadding": 4.5, "title": "current (pA)", "titlePadding": 13.5}}}}
  ]
 },
 {
  "width": 456, "height": 325.5,
  "title": {"text": "Nav1.7 corrected resurgent current", "offset": -30.4, "dx": 0},
  "data": {"name": "d17"},
  "encoding": {
   "x": {"field": "v", "type": "quantitative", "scale": {"domain": [-90, 10], "nice": false, "zero": false}, "axis": {"values": [-90,-80,-70,-60,-50,-40,-30,-20,-10,0,10], "labelExpr": "datum.value % 20 != 0 || datum.value > 0 ? '' : (datum.value == 0 ? '0' : '-' + abs(datum.value))", "tickSize": {"condition": {"test": "datum.value % 20 == 0", "value": 7}, "value": 4}, "labelPadding": 13, "title": "voltage (mV)", "titlePadding": 31}},
   "y": {"field": "cur", "type": "quantitative", "scale": {"domain": [-140, 11.9], "nice": false, "zero": false}, "axis": {"values": [-140,-130,-120,-110,-100,-90,-80,-70,-60,-50,-40,-30,-20,-10,0], "labelExpr": "datum.value % 20 != 0 ? '' : (datum.value == 0 ? '0' : '- ' + abs(datum.value))", "tickSize": {"condition": {"test": "datum.value % 20 == 0", "value": 7}, "value": 4}, "labelPadding": 10, "title": "current (pA)", "titlePadding": 6}}
  },
  "layer": [
   {"transform": [{"filter": "datum.grp == 'Nav1.7'"}], "mark": {"type": "errorbar", "ticks": true, "size": 9, "thickness": 2, "color": "#111111"}, "encoding": {"yError": {"field": "sem"}}},
   {"transform": [{"filter": "datum.grp == 'Nav1.7'"}], "mark": {"type": "line", "strokeWidth": 2.2, "color": "#111111"}},
   {"transform": [{"filter": "datum.grp != 'Nav1.7'"}], "mark": {"type": "errorbar", "ticks": true, "size": 9, "thickness": 2, "color": "#ff00ff"}, "encoding": {"yError": {"field": "sem"}}},
   {"transform": [{"filter": "datum.grp != 'Nav1.7'"}], "mark": {"type": "line", "strokeWidth": 2.2, "color": "#ff00ff"}},
   {"mark": {"type": "point", "shape": "square", "filled": true, "size": 170, "opacity": 1}, "encoding": {"color": {"field": "grp", "type": "nominal", "scale": {"domain": ["Nav1.7", "Nav1.7+ATX II"], "range": ["#111111", "#ff00ff"]}, "legend": {"title": null, "orient": "none", "legendX": 43.6, "legendY": 261.3}}}},
   {"transform": [{"filter": "datum.sig == 1"}, {"calculate": "datum.cur - datum.sem", "as": "ys"}], "mark": {"type": "text", "text": "*", "fontSize": 20, "baseline": "alphabetic", "dy": 22.8, "color": "#222"}, "encoding": {"y": {"field": "ys", "type": "quantitative", "scale": {"domain": [-140, 11.9], "nice": false, "zero": false}, "axis": {"values": [-140,-130,-120,-110,-100,-90,-80,-70,-60,-50,-40,-30,-20,-10,0], "labelExpr": "datum.value % 20 != 0 ? '' : (datum.value == 0 ? '0' : '- ' + abs(datum.value))", "tickSize": {"condition": {"test": "datum.value % 20 == 0", "value": 7}, "value": 4}, "labelPadding": 10, "title": "current (pA)", "titlePadding": 6}}}},
   {"transform": [{"filter": "datum.v == -80 && datum.grp == 'Nav1.7'"}], "mark": {"type": "text", "text": "d", "fontSize": 30, "align": "left", "baseline": "alphabetic", "color": "#222"}, "encoding": {"x": {"datum": -116.0, "type": "quantitative"}, "y": {"datum": 16.2, "type": "quantitative"}}}
  ]
 },
 {
  "width": 457, "height": 319.6,
  "title": {"text": "Nav1.6 corrected resurgent current", "offset": -2.25, "dx": 0},
  "data": {"name": "d16"},
  "encoding": {
   "x": {"field": "v", "type": "quantitative", "scale": {"domain": [-90, 10], "nice": false, "zero": false}, "axis": {"values": [-90,-80,-70,-60,-50,-40,-30,-20,-10,0,10], "labelExpr": "datum.value % 20 != 0 || datum.value > 0 ? '' : (datum.value == 0 ? '0' : '-' + abs(datum.value))", "tickSize": {"condition": {"test": "datum.value % 20 == 0", "value": 7}, "value": 4}, "labelPadding": 13, "title": "voltage (mV)", "titlePadding": 36.8}},
   "y": {"field": "cur", "type": "quantitative", "scale": {"domain": [-600, 8.4], "nice": false, "zero": false}, "axis": {"values": [-600,-550,-500,-450,-400,-350,-300,-250,-200,-150,-100,-50,0], "labelExpr": "datum.value % 100 != 0 ? '' : (datum.value == 0 ? '0' : '- ' + abs(datum.value))", "tickSize": {"condition": {"test": "datum.value % 100 == 0", "value": 7}, "value": 4}, "labelPadding": 4.5, "title": "current (pA)", "titlePadding": 13.5}}
  },
  "layer": [
   {"transform": [{"filter": "datum.grp == 'Nav1.6'"}], "mark": {"type": "errorbar", "ticks": true, "size": 9, "thickness": 2, "color": "#111111"}, "encoding": {"yError": {"field": "sem"}}},
   {"transform": [{"filter": "datum.grp == 'Nav1.6'"}], "mark": {"type": "line", "strokeWidth": 2.2, "color": "#111111"}},
   {"transform": [{"filter": "datum.grp != 'Nav1.6'"}], "mark": {"type": "errorbar", "ticks": true, "size": 9, "thickness": 2, "color": "#ff00ff"}, "encoding": {"yError": {"field": "sem"}}},
   {"transform": [{"filter": "datum.grp != 'Nav1.6'"}], "mark": {"type": "line", "strokeWidth": 2.2, "color": "#ff00ff"}},
   {"mark": {"type": "point", "shape": "square", "filled": true, "size": 170, "opacity": 1}, "encoding": {"color": {"field": "grp", "type": "nominal", "scale": {"domain": ["Nav1.6", "Nav1.6+ATX II"], "range": ["#111111", "#ff00ff"]}, "legend": {"title": null, "orient": "none", "legendX": 38.5, "legendY": 258}}}},
   {"transform": [{"filter": "datum.sig == 1"}, {"calculate": "datum.cur - datum.sem", "as": "ys"}], "mark": {"type": "text", "text": "*", "fontSize": 20, "baseline": "alphabetic", "dy": 22.8, "color": "#222"}, "encoding": {"y": {"field": "ys", "type": "quantitative", "scale": {"domain": [-600, 8.4], "nice": false, "zero": false}, "axis": {"values": [-600,-550,-500,-450,-400,-350,-300,-250,-200,-150,-100,-50,0], "labelExpr": "datum.value % 100 != 0 ? '' : (datum.value == 0 ? '0' : '- ' + abs(datum.value))", "tickSize": {"condition": {"test": "datum.value % 100 == 0", "value": 7}, "value": 4}, "labelPadding": 4.5, "title": "current (pA)", "titlePadding": 13.5}}}}
  ]
 }
]
}
